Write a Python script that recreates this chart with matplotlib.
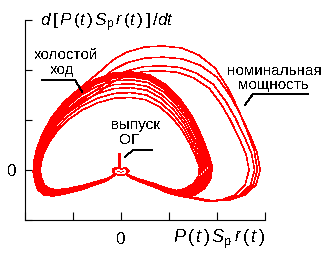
import numpy as np
from matplotlib import pyplot as plt

plt.rcParams['font.family'] = ['Liberation Sans', 'DejaVu Sans']
plt.rcParams['mathtext.fontset'] = 'custom'
plt.rcParams['mathtext.rm'] = 'Liberation Sans'
plt.rcParams['mathtext.it'] = 'Liberation Sans:italic'
plt.rcParams['text.antialiased'] = False

# idle cycle outline (outermost turn), clockwise from the cusp at the origin
idle_x = [0.00, -0.15, -0.31, -0.54, -0.85, -1.17, -1.42, -1.60, -1.73, -1.79, -1.83,
          -1.81, -1.75, -1.63, -1.44, -1.19, -0.88, -0.52, -0.15, 0.23, 0.60, 0.94,
          1.23, 1.48, 1.67, 1.81, 1.90, 1.88, 1.75, 1.54, 1.33, 1.06, 0.81, 0.50, 0.23, 0.00]
idle_y = [-0.02, -0.12, -0.22, -0.30, -0.40, -0.48, -0.52, -0.50, -0.40, -0.24, -0.04,
          0.20, 0.44, 0.74, 1.06, 1.36, 1.62, 1.82, 1.94, 1.96, 1.90, 1.70,
          1.42, 1.08, 0.70, 0.36, 0.08, -0.16, -0.36, -0.50, -0.54, -0.46, -0.36, -0.26, -0.16, -0.02]

# per-turn size of the idle cycles (upper half, right, left, lower half)
idle_top = [1.00, 0.995, 0.99, 0.985, 0.98, 0.975, 0.97, 0.96, 0.95, 0.92, 0.88, 0.84, 0.79, 0.74]
idle_right = [1.00, 0.995, 0.99, 0.985, 0.98, 0.975, 0.97, 0.965, 0.96, 0.94, 0.92, 0.90, 0.88, 0.86]
idle_left = [1.00, 0.995, 0.99, 0.99, 0.985, 0.98, 0.98, 0.975, 0.97, 0.96, 0.95, 0.94, 0.93, 0.92]
idle_bottom = [1.00, 0.98, 0.96, 0.95, 0.93, 0.91, 0.90, 0.88, 0.86, 0.84, 0.82, 0.80, 0.78, 0.76]

# nominal power cycle outline (outermost turn)
nom_x = [0.00, -0.15, -0.31, -0.54, -0.85, -1.17, -1.42, -1.60, -1.73, -1.79, -1.83,
         -1.81, -1.75, -1.63, -1.44, -1.19, -0.88, -0.65, -0.40, -0.17, 0.13, 0.50, 0.88,
         1.29, 1.65, 2.00, 2.27, 2.48, 2.69, 2.83, 2.90, 2.81, 2.58, 2.27, 1.92, 1.58,
         1.33, 1.06, 0.81, 0.50, 0.23, 0.00]
nom_y = [-0.02, -0.12, -0.22, -0.30, -0.40, -0.48, -0.52, -0.50, -0.40, -0.24, -0.04,
         0.20, 0.44, 0.74, 1.06, 1.36, 1.62, 1.80, 2.00, 2.20, 2.36, 2.46, 2.48,
         2.44, 2.30, 2.04, 1.64, 1.24, 0.76, 0.40, 0.00, -0.30, -0.50, -0.60, -0.62, -0.56,
         -0.52, -0.46, -0.36, -0.26, -0.16, -0.02]
nom_top = [1.00, 0.91, 0.84, 0.80]
nom_right = [0.98, 1.00, 0.96, 0.92]

# small exhaust loop and spike near the origin
og_x = [0.00, -0.08, -0.17, -0.17, -0.10, 0.00, 0.10, 0.15, 0.10, 0.00]
og_y = [0.00, 0.04, 0.02, -0.04, -0.08, -0.10, -0.08, -0.02, 0.04, 0.00]
spike_x = [-0.035, -0.028, -0.02]
spike_y = [0.02, 0.32, 0.02]


def scaled(x, y, top, right, left, bottom):
    x = np.array(x)
    y = np.array(y)
    x = np.where(x > 0, x * right, x * left)
    y = np.where(y > 0, y * top, y * bottom)
    return x, y


fig = plt.figure(figsize=(3.28, 2.62), dpi=100)
ax = fig.add_axes([25 / 328, 42 / 262, 240 / 328, 200 / 262])

for i in range(len(idle_top)):
    x, y = scaled(idle_x, idle_y, idle_top[i], idle_right[i], idle_left[i], idle_bottom[i])
    ax.plot(x, y, color='red', lw=0.4, antialiased=False)

for i in range(len(nom_top)):
    x, y = scaled(nom_x, nom_y, nom_top[i], nom_right[i], 1.0, 1.0)
    ax.plot(x, y, color='red', lw=0.4, antialiased=False)

ax.fill(og_x, og_y, color='red', antialiased=False)
ax.plot(np.array(og_x) * 0.6, np.array(og_y) * 0.5 - 0.02, color='white', lw=0.4, antialiased=False)
ax.fill(spike_x, spike_y, color='red', antialiased=False)

ax.set_xlim(-2, 3)
ax.set_ylim(-1, 3)
for s in ['top', 'right']:
    ax.spines[s].set_visible(False)
ax.spines['left'].set_linewidth(0.8)
ax.spines['bottom'].set_linewidth(0.8)
ax.set_xticks([-2, -1, 0, 1, 2, 3])
ax.set_xticklabels(['', '', '0', '', '', ''])
ax.set_yticks([-1, 0, 1, 2, 3])
ax.set_yticklabels(['', '0', '', '', ''])
ax.tick_params(axis='x', direction='in', length=6, width=0.8, pad=9, labelsize=12.5)
ax.tick_params(axis='y', direction='in', length=5, width=0.8, pad=6, labelsize=12.5)

ax.text(-1.69, 2.95, r'$d\,[\,P\,(t\,)\,S_{\rm p}\,r\,(t\,)\,]\,/dt$', fontsize=12.5,
        ha='left', va='center', clip_on=False)
ax.text(3.0, -1.38, r'$P\,(\,t\,)\,S_{\rm p}\,r\,(\,t\,)$', fontsize=13,
        ha='right', va='center', clip_on=False)

ax.text(-1.15, 2.30, 'холостой', fontsize=11, ha='center', va='center')
ax.text(-1.23, 2.00, 'ход', fontsize=11, ha='center', va='center')
ax.plot([-1.65, -0.96, -0.81], [1.80, 1.80, 1.56], color='black', lw=0.6, antialiased=False)

ax.text(3.19, 1.98, 'номинальная', fontsize=11, ha='center', va='center', clip_on=False)
ax.text(3.17, 1.70, 'мощность', fontsize=11, ha='center', va='center', clip_on=False)
ax.plot([3.9, 2.75, 2.58], [1.52, 1.52, 1.30], color='black', lw=0.6, antialiased=False,
        clip_on=False)

ax.text(0.31, 0.90, 'выпуск', fontsize=11, ha='center', va='center')
ax.text(0.17, 0.60, 'ОГ', fontsize=11, ha='center', va='center')
ax.plot([0.08, 0.25, 0.65], [0.26, 0.40, 0.40], color='black', lw=0.6, antialiased=False)

fig.savefig('out.png', dpi=100)
